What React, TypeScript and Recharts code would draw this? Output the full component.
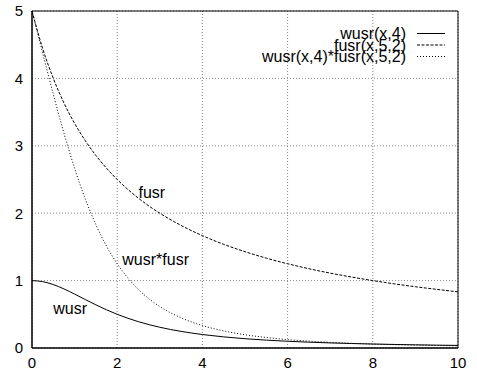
import React from 'react';
import { LineChart, Line, XAxis, YAxis, CartesianGrid, ReferenceArea, ReferenceDot } from 'recharts';

const xs = [0, 0.25, 0.5, 0.75, 1, 1.25, 1.5, 1.75, 2, 2.25, 2.5, 2.75, 3, 3.5, 4, 4.5, 5, 5.5, 6, 6.5, 7, 7.5, 8, 8.5, 9, 9.5, 10];
const wusr = [1, 0.9846, 0.9412, 0.8767, 0.8, 0.7191, 0.64, 0.5664, 0.5, 0.4414, 0.3902, 0.3459, 0.3077, 0.2462, 0.2, 0.1649, 0.1379, 0.1168, 0.1, 0.0865, 0.0755, 0.0664, 0.0588, 0.0525, 0.0471, 0.0424, 0.0385];
const fusr = [5, 4.444, 4, 3.636, 3.333, 3.077, 2.857, 2.667, 2.5, 2.353, 2.222, 2.105, 2, 1.818, 1.667, 1.538, 1.429, 1.333, 1.25, 1.176, 1.111, 1.053, 1, 0.952, 0.909, 0.87, 0.833];
const product = [5, 4.376, 3.765, 3.188, 2.667, 2.213, 1.829, 1.51, 1.25, 1.039, 0.867, 0.728, 0.615, 0.448, 0.333, 0.254, 0.197, 0.156, 0.125, 0.102, 0.0839, 0.0699, 0.0588, 0.05, 0.0428, 0.0369, 0.0321];

const xTicks = [0, 2, 4, 6, 8, 10];
const yTicks = [0, 1, 2, 3, 4, 5];

const legendItems = [
  { label: 'wusr(x,4)', dash: undefined },
  { label: 'fusr(x,5,2)', dash: '3 1.5' },
  { label: 'wusr(x,4)*fusr(x,5,2)', dash: '1 2' },
];

const curveLabels = [
  { text: 'fusr', x: 2.5, y: 2.31 },
  { text: 'wusr*fusr', x: 2.12, y: 1.31 },
  { text: 'wusr', x: 0.5, y: 0.59 },
];

const data = xs.map((x, i) => ({ x, wusr: wusr[i], fusr: fusr[i], product: product[i] }));

const FONT = '"Liberation Sans", Arial, sans-serif';

const App = () => {
  const tickStyle = { fill: '#000', fontSize: 15, fontFamily: FONT };

  return (
    <div style={{ position: 'absolute', left: 0, top: 0, width: 477, height: 374, background: '#fff' }}>
      <LineChart width={477} height={374} data={data} margin={{ top: 11, right: 19, bottom: 0, left: 0 }}>
        <CartesianGrid stroke="#888" strokeDasharray="1 2" verticalValues={xTicks} horizontalValues={yTicks} />
        <XAxis
          dataKey="x"
          type="number"
          domain={[0, 10]}
          ticks={xTicks}
          tickLine={false}
          tickSize={0}
          tickMargin={9}
          height={26}
          stroke="#000"
          tick={tickStyle}
        />
        <YAxis
          type="number"
          domain={[0, 5]}
          ticks={yTicks}
          tickLine={false}
          tickSize={0}
          tickMargin={9}
          width={32}
          stroke="#000"
          tick={tickStyle}
        />
        <ReferenceArea x1={0} x2={10} y1={0} y2={5} fill="none" stroke="#000" strokeWidth={1} ifOverflow="visible" />
        <Line dataKey="wusr" type="monotone" stroke="#000" strokeWidth={1} dot={false} isAnimationActive={false} />
        <Line dataKey="fusr" type="monotone" stroke="#000" strokeWidth={1} strokeDasharray="3 1.5" dot={false} isAnimationActive={false} />
        <Line dataKey="product" type="monotone" stroke="#000" strokeWidth={1} strokeDasharray="1 2" dot={false} isAnimationActive={false} />
        {curveLabels.map((c) => (
          <ReferenceDot
            key={c.text}
            x={c.x}
            y={c.y}
            r={0}
            stroke="none"
            fill="none"
            label={(props: any) => (
              <text
                x={props.viewBox.x}
                y={props.viewBox.y}
                dy="0.35em"
                textAnchor="start"
                fontSize={16}
                fontFamily={FONT}
                fill="#000"
              >
                {c.text}
              </text>
            )}
          />
        ))}
      </LineChart>
      <svg width={477} height={374} style={{ position: 'absolute', left: 0, top: 0, pointerEvents: 'none' }}>
        {legendItems.map((item, i) => {
          const y = 33.5 + i * 11.5;
          return (
            <g key={item.label}>
              <text x={406} y={y} dy="0.35em" textAnchor="end" fontSize={16} fontFamily={FONT} fill="#000">
                {item.label}
              </text>
              <line x1={417} x2={445} y1={y} y2={y} stroke="#000" strokeWidth={1} strokeDasharray={item.dash} />
            </g>
          );
        })}
      </svg>
    </div>
  );
};

export default App;
